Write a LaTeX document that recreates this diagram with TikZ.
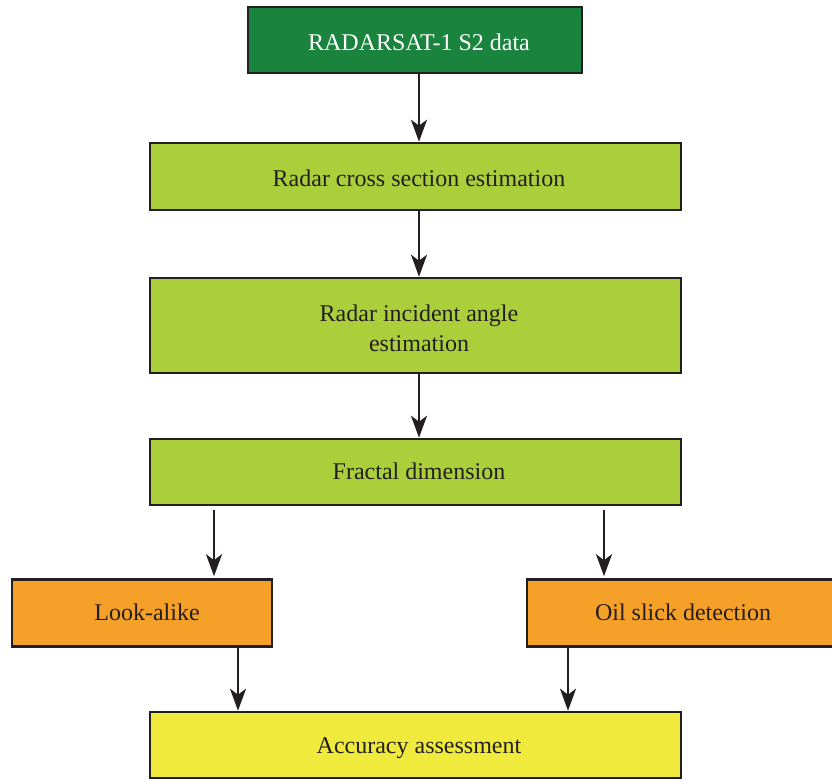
\documentclass[tikz,border=0pt]{standalone}
\usepackage{fontspec}
\setmainfont{Liberation Serif}
\usetikzlibrary{arrows.meta}
\definecolor{dkgreen}{HTML}{1A843F}
\definecolor{ltgreen}{HTML}{ABCF3A}
\definecolor{boxorange}{HTML}{F5A028}
\definecolor{boxyellow}{HTML}{F0EA3C}
\definecolor{edge}{HTML}{231F20}
\newcommand{\sh}{\hspace*{7pt}}
\begin{document}
\begin{tikzpicture}[x=1pt,y=-1pt,
  box/.style={draw=edge, line width=2.6pt, inner sep=0pt, align=center,
    font=\fontsize{24}{30}\selectfont, text=edge},
  bl/.style={text height=#1, text depth=0pt},
  arr/.style={-{Stealth[length=22pt,width=16pt,inset=6pt]}, line width=2.4pt, draw=edge}]
\useasboundingbox (0,0) rectangle (832,779);
\node[box, bl=20pt, fill=dkgreen, text=white, minimum width=334pt, minimum height=66pt] (b1) at (415,40) {\hspace*{8pt}RADARSAT-1 S2 data};
\node[box, bl=20.4pt, fill=ltgreen, minimum width=531pt, minimum height=67pt] (b2) at (415.5,176.5) {\sh Radar cross section estimation};
\node[box, fill=ltgreen, minimum width=531pt, minimum height=95pt] (b3) at (415.5,325.5) {\sh\rule{0pt}{23pt}Radar incident angle\\\sh estimation};
\node[box, bl=14.6pt, fill=ltgreen, minimum width=531pt, minimum height=66pt] (b4) at (415.5,472) {\sh Fractal dimension};
\node[box, bl=15.4pt, fill=boxorange, minimum width=260pt, minimum height=67pt] (b5) at (142,613) {\hspace*{10pt}Look-alike};
\node[box, bl=15.4pt, fill=boxorange, minimum width=312pt, minimum height=67pt] (b6) at (683,613) {Oil slick detection};
\node[box, bl=17.4pt, fill=boxyellow, minimum width=531pt, minimum height=66pt] (b7) at (415.5,745) {\sh Accuracy assessment};
\coordinate (cm) at (419,0);
\coordinate (cl) at (214,0);
\coordinate (cr) at (604,0);
\coordinate (dl) at (238,0);
\coordinate (dr) at (568,0);
\draw[arr] (b1.south -| cm) -- (b2.north -| cm);
\draw[arr] (b2.south -| cm) -- (b3.north -| cm);
\draw[arr] (b3.south -| cm) -- (b4.north -| cm);
\draw[arr] ([yshift=-4pt]b4.south -| cl) -- ([yshift=2pt]b5.north -| cl);
\draw[arr] ([yshift=-4pt]b4.south -| cr) -- ([yshift=2pt]b6.north -| cr);
\draw[arr] (b5.south -| dl) -- (b7.north -| dl);
\draw[arr] (b6.south -| dr) -- (b7.north -| dr);
\end{tikzpicture}
\end{document}
